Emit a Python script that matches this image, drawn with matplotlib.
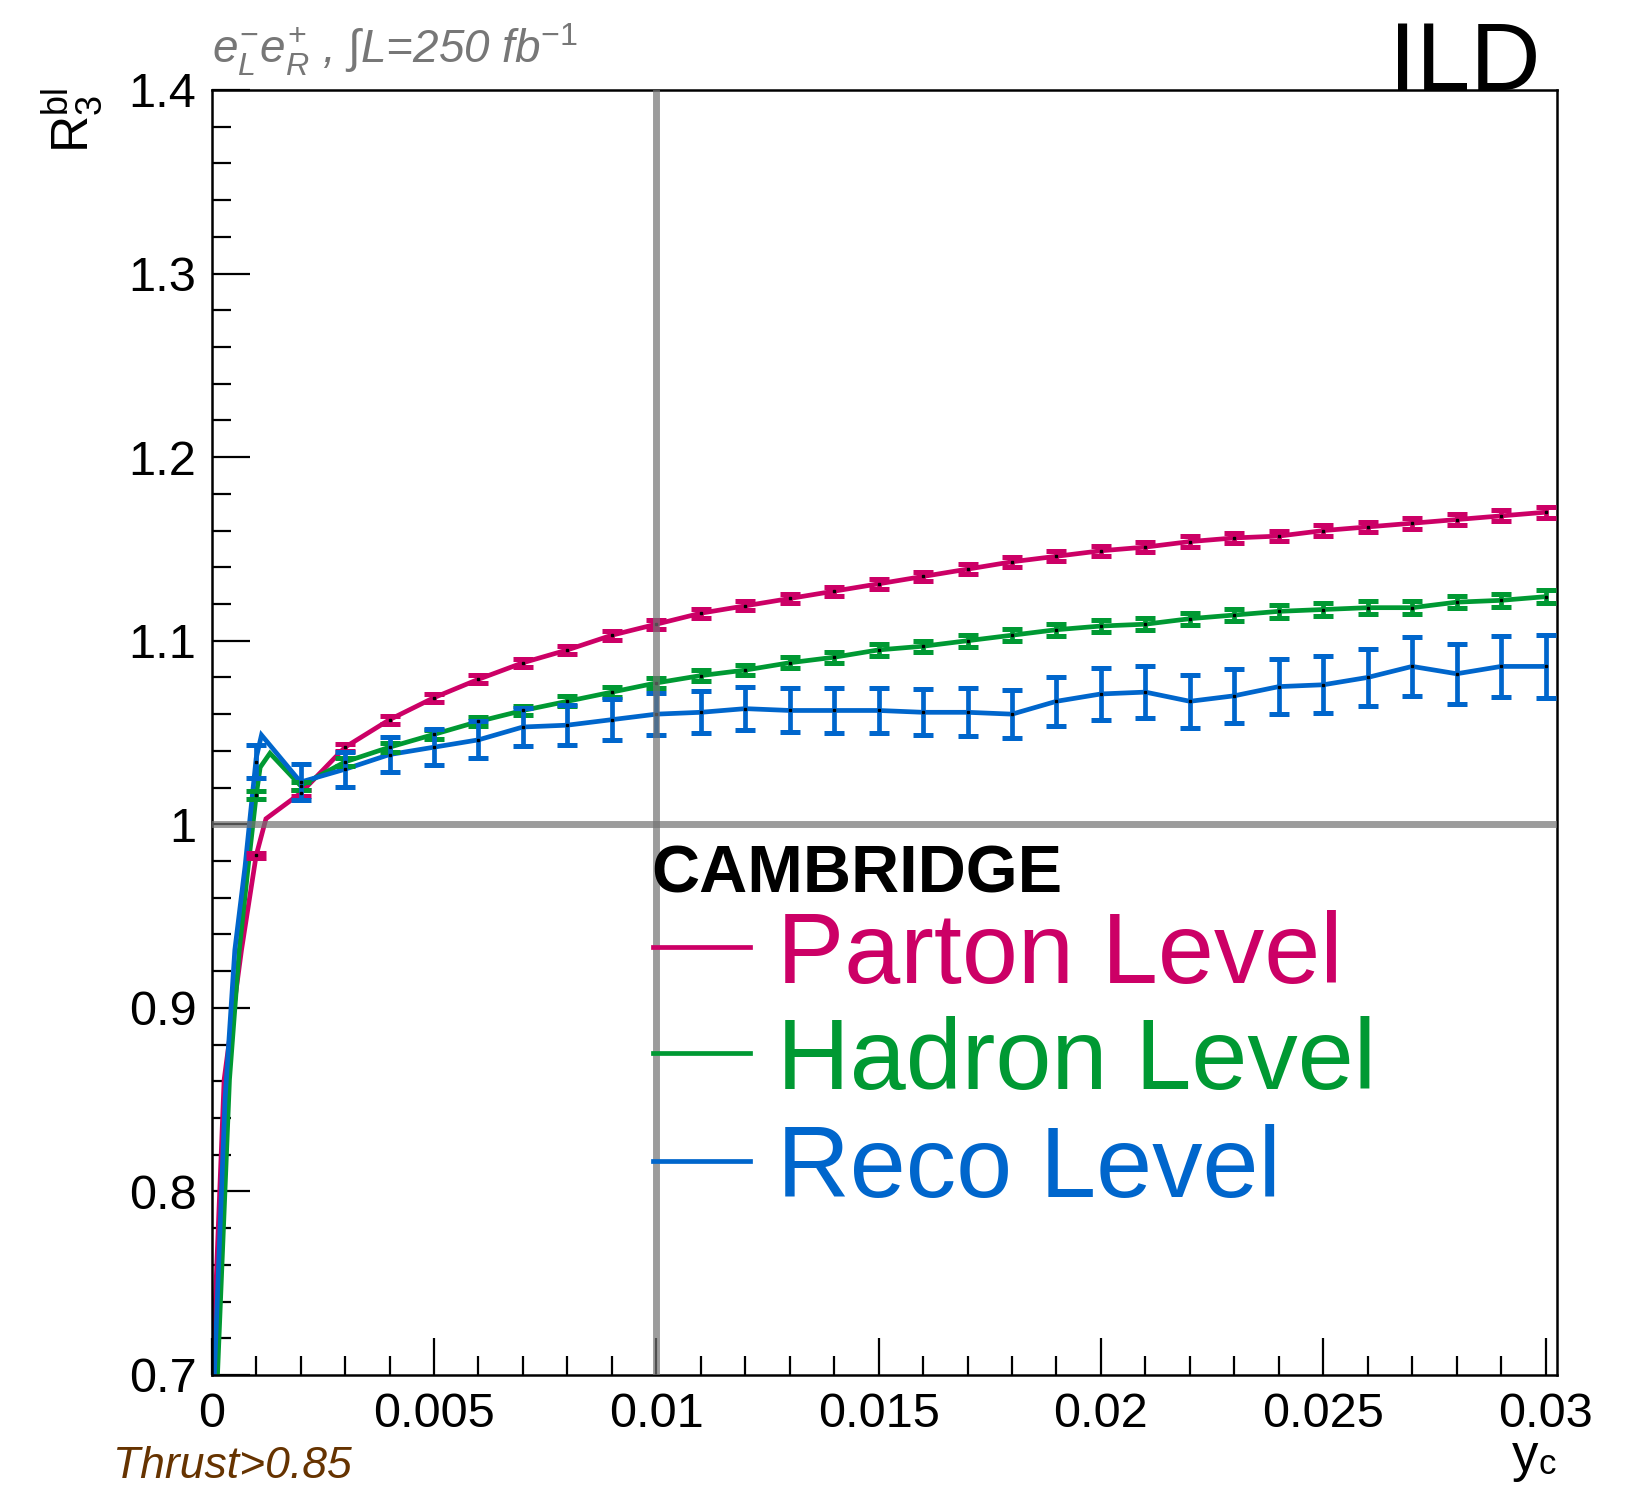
import numpy as np
import matplotlib
matplotlib.use("Agg")
import matplotlib.pyplot as plt
from matplotlib.lines import Line2D
from matplotlib.ticker import MultipleLocator, FuncFormatter

plt.rcParams['font.family'] = ['Liberation Sans', 'DejaVu Sans']
plt.rcParams['mathtext.fontset'] = 'custom'
plt.rcParams['mathtext.rm'] = 'Liberation Sans'
plt.rcParams['mathtext.it'] = 'Liberation Sans:italic'
plt.rcParams['mathtext.bf'] = 'Liberation Sans:bold'

#
# Data
#

yc = [0.001, 0.002, 0.003, 0.004, 0.005, 0.006, 0.007, 0.008, 0.009, 0.010,
      0.011, 0.012, 0.013, 0.014, 0.015, 0.016, 0.017, 0.018, 0.019, 0.020,
      0.021, 0.022, 0.023, 0.024, 0.025, 0.026, 0.027, 0.028, 0.029, 0.030]

parton = [0.983, 1.017, 1.042, 1.057, 1.069, 1.079, 1.088, 1.095, 1.103, 1.109,
          1.115, 1.119, 1.123, 1.127, 1.131, 1.135, 1.139, 1.143, 1.146, 1.149,
          1.151, 1.154, 1.156, 1.157, 1.160, 1.162, 1.164, 1.166, 1.168, 1.170]
parton_err = [0.0015, 0.0018, 0.0020, 0.0021, 0.0022, 0.0022, 0.0023, 0.0023, 0.0024, 0.0024,
              0.0024, 0.0025, 0.0025, 0.0025, 0.0026, 0.0026, 0.0026, 0.0027, 0.0027, 0.0027,
              0.0028, 0.0028, 0.0028, 0.0028, 0.0029, 0.0029, 0.0029, 0.0030, 0.0030, 0.0030]

hadron = [1.016, 1.021, 1.034, 1.042, 1.049, 1.056, 1.062, 1.067, 1.072, 1.077,
          1.081, 1.084, 1.088, 1.091, 1.095, 1.097, 1.100, 1.103, 1.106, 1.108,
          1.109, 1.112, 1.114, 1.116, 1.117, 1.118, 1.118, 1.121, 1.122, 1.124]
hadron_err = [0.0020, 0.0022, 0.0023, 0.0025, 0.0026, 0.0026, 0.0027, 0.0027, 0.0028, 0.0028,
              0.0029, 0.0029, 0.0030, 0.0031, 0.0031, 0.0031, 0.0032, 0.0032, 0.0032, 0.0033,
              0.0033, 0.0033, 0.0033, 0.0034, 0.0034, 0.0034, 0.0034, 0.0034, 0.0035, 0.0035]

reco = [1.034, 1.023, 1.030, 1.038, 1.042, 1.046, 1.053, 1.054, 1.057, 1.060,
        1.061, 1.063, 1.062, 1.062, 1.062, 1.061, 1.061, 1.060, 1.067, 1.071,
        1.072, 1.067, 1.070, 1.075, 1.076, 1.080, 1.086, 1.082, 1.086, 1.086]
reco_err = [0.0090, 0.0100, 0.0095, 0.0095, 0.0097, 0.0100, 0.0103, 0.0108, 0.0110, 0.0113,
            0.0115, 0.0118, 0.0120, 0.0122, 0.0123, 0.0125, 0.0130, 0.0132, 0.0135, 0.0140,
            0.0140, 0.0145, 0.0148, 0.0150, 0.0155, 0.0157, 0.0160, 0.0163, 0.0168, 0.0170]

# start of the drawn curves (below the first bin)
parton_head_x = [0.0, 0.00028, 0.00067, 0.001, 0.00122]
parton_head_y = [0.690, 0.861, 0.9315, 0.983, 1.003]
hadron_head_x = [0.0, 0.00013, 0.0004, 0.00062, 0.00082, 0.001, 0.00109, 0.00131]
hadron_head_y = [0.620, 0.700, 0.861, 0.9315, 0.977, 1.0156, 1.031, 1.0387]
reco_head_x = [0.0, 0.00006, 0.0003, 0.00052, 0.00075, 0.001, 0.00112]
reco_head_y = [0.665, 0.700, 0.850, 0.9315, 0.977, 1.036, 1.0486]

labels = ['Parton Level', 'Hadron Level', 'Reco Level']
colors = ['#cc0066', '#009933', '#0066cc']

W, H = 1650, 1487

def fx(px):
    return px / W

def fy(py):
    return 1 - py / H

fig = plt.figure(figsize=(16.5, 14.87), dpi=100)
ax = fig.add_axes([fx(211.7), fy(1375), fx(1556.7) - fx(211.7), fy(90) - fy(1375)])

series = [
    (parton, parton_err, parton_head_x, parton_head_y),
    (hadron, hadron_err, hadron_head_x, hadron_head_y),
    (reco, reco_err, reco_head_x, reco_head_y),
]

for (vals, errs, hx, hy), col in zip(series, colors):
    lx = list(hx) + yc[1:]
    ly = list(hy) + vals[1:]
    ax.plot(lx, ly, color=col, lw=3.4, solid_joinstyle='miter', zorder=2)
    ax.errorbar(yc, vals, yerr=errs, fmt='none', ecolor=col, elinewidth=3.4,
                capsize=7, capthick=3.6, zorder=3)
    ax.plot(yc, vals, ls='none', marker='s', ms=1.8, mfc='black', mec='black', zorder=4)

# reference lines
ax.axvline(0.01, color=(0.45, 0.45, 0.45), alpha=0.7, lw=5, zorder=5)
ax.axhline(1.0, color=(0.45, 0.45, 0.45), alpha=0.7, lw=5, zorder=5)

ax.set_xlim(0, 0.03025)
ax.set_ylim(0.7, 1.4)

ax.xaxis.set_major_locator(MultipleLocator(0.005))
ax.xaxis.set_minor_locator(MultipleLocator(0.001))
ax.yaxis.set_major_locator(MultipleLocator(0.1))
ax.yaxis.set_minor_locator(MultipleLocator(0.02))
fmt = FuncFormatter(lambda v, p: '%g' % round(v, 4))
ax.xaxis.set_major_formatter(fmt)
ax.yaxis.set_major_formatter(fmt)

ax.tick_params(which='both', direction='in', top=False, right=False, width=1.6, labelsize=35)
ax.tick_params(which='major', length=27)
ax.tick_params(which='minor', length=13.5)
ax.tick_params(axis='y', pad=11)
ax.tick_params(axis='x', pad=12)
for s in ax.spines.values():
    s.set_linewidth(1.8)

#
# Texts
#

fig.text(fx(1541), fy(90), 'ILD', ha='right', va='baseline', fontsize=70)
fig.text(fx(211.7), fy(63), r'$e^{-}_{L}e^{+}_{R}$ , $\int$L=250 fb$^{\mathit{-1}}$',
         style='italic', color='#777777', fontsize=33, va='baseline', ha='left')
fig.text(fx(113), fy(1478), 'Thrust>0.85', style='italic', color='#663300',
         fontsize=32, va='baseline', ha='left')
fig.text(fx(105), fy(88), r'$\mathrm{R}_{\mathrm{3}}^{\mathrm{bl}}$', rotation=90,
         ha='right', va='top', fontsize=37)
fig.text(fx(1538), fy(1432), 'y', ha='right', va='top', fontsize=38)
fig.text(fx(1539), fy(1474), 'c', ha='left', va='baseline', fontsize=25)

#
# Legend
#

fig.text(fx(651.7), fy(893), 'CAMBRIDGE', fontsize=48, weight='bold', va='baseline', ha='left')
leg_y = [947, 1053, 1161]
for lab, col, ly in zip(labels, colors, leg_y):
    fig.add_artist(Line2D([fx(653), fx(750)], [fy(ly), fy(ly)], color=col, lw=3.4))
    fig.text(fx(777), fy(ly + 36), lab, color=col, fontsize=72.5, va='baseline', ha='left')

fig.savefig('out.png', dpi=100)
